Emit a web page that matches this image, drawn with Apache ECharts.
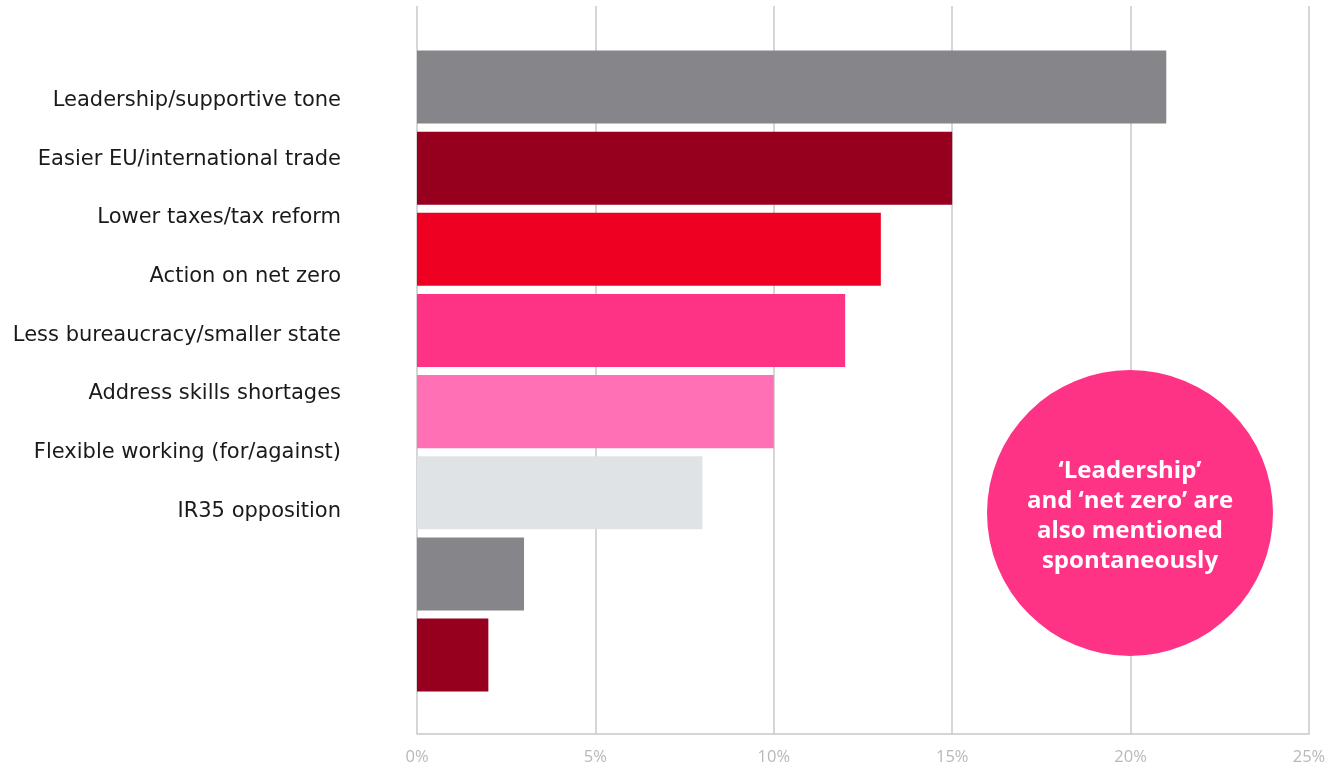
<!DOCTYPE html>
<html><head><meta charset="utf-8">
<script src="https://cdn.jsdelivr.net/npm/echarts@6/dist/echarts.min.js"></script>
<style>html,body{margin:0;padding:0;background:#fff}#c{width:1341px;height:768px}</style>
</head><body><div id="c"></div>
<script>
var labels = ['Leadership/supportive tone','Easier EU/international trade','Lower taxes/tax reform','Action on net zero','Less bureaucracy/smaller state','Address skills shortages','Flexible working (for/against)','IR35 opposition'];
var barKeys = ['b1','b2','b3','b4','b5','b6','b7','b8'];
var values = [21, 15, 13, 12, 10, 8, 3, 2];
var colors = ['#868589','#96001e','#ee0022','#ff3385','#ff70b5','#e0e3e6','#868589','#96001e'];
var xTicks = [0, 5, 10, 15, 20, 25];
var noteText = '\u2018Leadership\u2019\nand \u2018net zero\u2019 are\nalso mentioned\nspontaneously';

var font = '"Open Sans", Lato, sans-serif';
var chart = echarts.init(document.getElementById('c'));
chart.setOption({
  animation: false,
  grid: [
    {left: 417, right: 32, top: 6, bottom: 34},
    {left: 417, right: 32, top: 46.5, bottom: 72.4},
    {left: 349, width: 1, top: 71, height: 469.8}
  ],
  xAxis: [
    {gridIndex: 0, type: 'value', min: xTicks[0], max: xTicks[xTicks.length-1], interval: 5,
     axisLine: {show: true, lineStyle: {color: '#c8c8c8', width: 1.5}}, axisTick: {show: false},
     splitLine: {show: true, lineStyle: {color: '#c8c8c8', width: 1.5}},
     axisLabel: {formatter: '{value}%', color: '#b8b8b8', fontSize: 16.5, fontFamily: font, margin: 15}},
    {gridIndex: 1, type: 'value', min: 0, max: 25, show: false},
    {gridIndex: 2, type: 'value', show: false}
  ],
  yAxis: [
    {gridIndex: 0, type: 'category', data: [''], show: false},
    {gridIndex: 1, type: 'category', data: barKeys, inverse: true, show: false},
    {gridIndex: 2, type: 'category', data: labels, inverse: true,
     axisLine: {show: false}, axisTick: {show: false},
     axisLabel: {color: '#1a1a1a', fontSize: 21, fontFamily: '"DejaVu Sans", sans-serif', margin: 8}}
  ],
  series: [{
    type: 'bar', xAxisIndex: 1, yAxisIndex: 1, barCategoryGap: '10%',
    data: values.map(function(v, i){ return {value: v, itemStyle: {color: colors[i]}}; })
  }],
  graphic: [{
    type: 'group', left: 987, top: 370, z: 100,
    children: [
      {type: 'circle', z: 100, shape: {cx: 143, cy: 143, r: 143}, style: {fill: '#ff3385'}},
      {type: 'text', z: 101, x: 143, y: 146, style: {text: noteText, fill: '#fff', font: 'bold 24px ' + font, textAlign: 'center', textVerticalAlign: 'middle', lineHeight: 30}}
    ]
  }]
});
</script></body></html>
